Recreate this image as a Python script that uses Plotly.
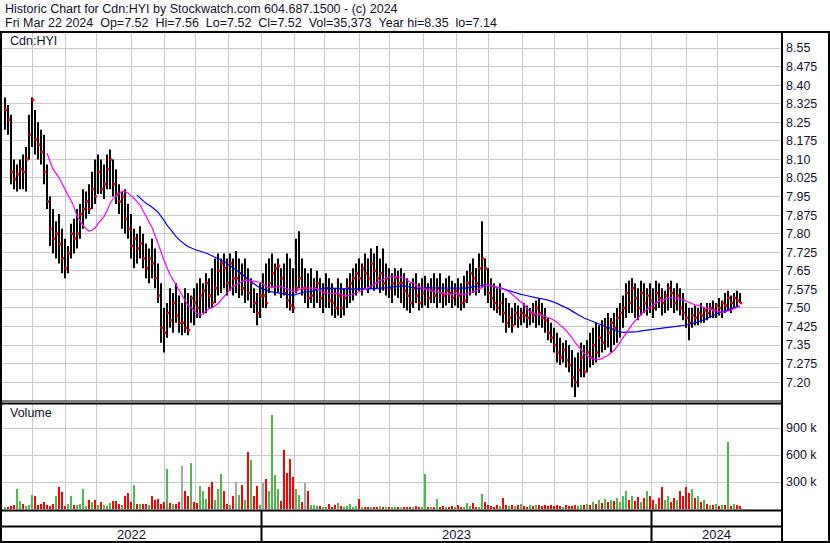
import plotly.graph_objects as go
import pandas as pd

# ---- data (2-trading-day bars) ----
START_DATE = "2022-05-05"
DAYS_PER_BAR = 2

high = [
    8.35, 8.32, 8.28, 8.10, 8.08, 8.10, 8.12, 8.15, 8.28, 8.35,
    8.30, 8.25, 8.22, 8.20, 8.08, 7.95, 7.90, 7.85, 7.88, 7.82,
    7.78, 7.75, 7.84, 7.86, 7.90, 7.92, 7.98, 7.97, 8.00, 8.05,
    8.10, 8.12, 8.10, 8.08, 8.12, 8.14, 8.10, 8.06, 8.00, 7.97,
    7.98, 7.92, 7.88, 7.82, 7.80, 7.83, 7.80, 7.76, 7.74, 7.78,
    7.74, 7.68, 7.60, 7.50, 7.52, 7.58, 7.56, 7.60, 7.55, 7.52,
    7.58, 7.56, 7.55, 7.58, 7.60, 7.62, 7.60, 7.64, 7.62, 7.66,
    7.70, 7.72, 7.70, 7.72, 7.70, 7.72, 7.70, 7.73, 7.70, 7.68,
    7.70, 7.66, 7.62, 7.58, 7.56, 7.60, 7.64, 7.68, 7.70, 7.72,
    7.68, 7.70, 7.66, 7.68, 7.72, 7.70, 7.66, 7.78, 7.81, 7.70,
    7.66, 7.64, 7.66, 7.62, 7.65, 7.62, 7.60, 7.64, 7.62, 7.60,
    7.58, 7.62, 7.60, 7.58, 7.62, 7.64, 7.66, 7.68, 7.70, 7.68,
    7.72, 7.70, 7.74, 7.72, 7.75, 7.70, 7.74, 7.68, 7.66, 7.64,
    7.66, 7.65, 7.66, 7.64, 7.62, 7.60, 7.62, 7.64, 7.60, 7.62,
    7.63, 7.60, 7.62, 7.64, 7.62, 7.64, 7.60, 7.62, 7.63, 7.61,
    7.60, 7.62, 7.60, 7.63, 7.65, 7.68, 7.70, 7.66, 7.72, 7.85,
    7.70, 7.66, 7.62, 7.60, 7.58, 7.60, 7.56, 7.54, 7.52, 7.50,
    7.52, 7.51, 7.50, 7.52, 7.51, 7.50, 7.52, 7.53, 7.54, 7.52,
    7.50, 7.46, 7.44, 7.42, 7.40, 7.38, 7.36, 7.37, 7.35, 7.33,
    7.30, 7.32, 7.36, 7.35, 7.37, 7.40, 7.42, 7.44, 7.43, 7.45,
    7.46, 7.48, 7.46, 7.48, 7.50, 7.52, 7.55, 7.60, 7.61, 7.62,
    7.60, 7.58, 7.61, 7.60, 7.58, 7.60, 7.58, 7.61, 7.60, 7.58,
    7.57, 7.60, 7.61, 7.58, 7.60, 7.58, 7.56, 7.52, 7.50, 7.50,
    7.51, 7.50, 7.52, 7.50, 7.52, 7.52, 7.53, 7.52, 7.54, 7.53,
    7.56, 7.57, 7.55, 7.56, 7.57, 7.56,
]

low = [
    8.22, 8.20, 8.00, 7.98, 7.97, 7.98, 7.98, 7.97, 8.10, 8.15,
    8.12, 8.10, 8.08, 8.00, 7.90, 7.75, 7.72, 7.70, 7.68, 7.64,
    7.62, 7.64, 7.70, 7.72, 7.74, 7.78, 7.82, 7.86, 7.88, 7.90,
    7.92, 7.96, 7.96, 7.94, 7.98, 7.98, 7.95, 7.92, 7.88, 7.82,
    7.80, 7.78, 7.70, 7.66, 7.68, 7.70, 7.66, 7.62, 7.60, 7.62,
    7.58, 7.52, 7.36, 7.32, 7.38, 7.42, 7.40, 7.44, 7.40, 7.39,
    7.40, 7.39, 7.44, 7.43, 7.46, 7.46, 7.48, 7.48, 7.50, 7.50,
    7.52, 7.55, 7.56, 7.58, 7.55, 7.57, 7.55, 7.56, 7.54, 7.55,
    7.52, 7.53, 7.50, 7.48, 7.43, 7.46, 7.50, 7.50, 7.56, 7.58,
    7.55, 7.56, 7.54, 7.55, 7.50, 7.49, 7.48, 7.56, 7.58, 7.55,
    7.52, 7.50, 7.52, 7.50, 7.52, 7.50, 7.48, 7.50, 7.50, 7.47,
    7.46, 7.47, 7.46, 7.47, 7.50, 7.52, 7.53, 7.55, 7.57, 7.55,
    7.58, 7.56, 7.58, 7.57, 7.58, 7.56, 7.57, 7.55, 7.54, 7.52,
    7.55, 7.54, 7.52, 7.50, 7.49, 7.48, 7.50, 7.52, 7.49, 7.50,
    7.51, 7.50, 7.52, 7.52, 7.50, 7.52, 7.50, 7.51, 7.52, 7.50,
    7.51, 7.50, 7.49, 7.50, 7.52, 7.55, 7.56, 7.55, 7.56, 7.58,
    7.55, 7.52, 7.50, 7.49, 7.48, 7.47, 7.44, 7.40, 7.42, 7.40,
    7.43, 7.42, 7.43, 7.44, 7.42, 7.43, 7.44, 7.42, 7.43, 7.42,
    7.40, 7.37, 7.36, 7.32, 7.28, 7.27, 7.28, 7.26, 7.24, 7.18,
    7.14, 7.18, 7.22, 7.22, 7.24, 7.26, 7.27, 7.28, 7.30, 7.32,
    7.33, 7.34, 7.32, 7.35, 7.36, 7.38, 7.42, 7.46, 7.48, 7.48,
    7.46, 7.45, 7.47, 7.48, 7.47, 7.48, 7.46, 7.49, 7.50, 7.47,
    7.48, 7.49, 7.50, 7.48, 7.49, 7.47, 7.45, 7.42, 7.37, 7.42,
    7.43, 7.43, 7.44, 7.44, 7.45, 7.46, 7.46, 7.46, 7.47, 7.46,
    7.48, 7.49, 7.48, 7.50, 7.50, 7.52,
]

close = [
    8.30, 8.26, 8.05, 8.02, 8.04, 8.06, 8.05, 8.10, 8.20, 8.34,
    8.18, 8.16, 8.13, 8.05, 7.93, 7.82, 7.78, 7.80, 7.76, 7.70,
    7.66, 7.72, 7.80, 7.78, 7.80, 7.88, 7.90, 7.93, 7.90, 7.98,
    7.95, 8.05, 7.98, 8.00, 8.06, 8.10, 8.00, 7.96, 7.93, 7.95,
    7.86, 7.82, 7.75, 7.78, 7.74, 7.76, 7.70, 7.66, 7.70, 7.68,
    7.62, 7.55, 7.42, 7.40, 7.48, 7.45, 7.52, 7.47, 7.44, 7.44,
    7.42, 7.41, 7.54, 7.52, 7.50, 7.55, 7.57, 7.60, 7.55, 7.52,
    7.58, 7.65, 7.68, 7.66, 7.60, 7.68, 7.62, 7.62, 7.64, 7.58,
    7.62, 7.56, 7.60, 7.52, 7.48, 7.55, 7.55, 7.52, 7.60, 7.64,
    7.66, 7.67, 7.62, 7.56, 7.53, 7.51, 7.50, 7.58, 7.62, 7.58,
    7.58, 7.54, 7.55, 7.58, 7.60, 7.54, 7.56, 7.58, 7.53, 7.52,
    7.50, 7.55, 7.50, 7.54, 7.58, 7.60, 7.62, 7.64, 7.62, 7.66,
    7.64, 7.62, 7.68, 7.65, 7.62, 7.64, 7.60, 7.62, 7.58, 7.60,
    7.62, 7.60, 7.60, 7.57, 7.55, 7.52, 7.58, 7.55, 7.52, 7.56,
    7.58, 7.54, 7.57, 7.55, 7.58, 7.56, 7.55, 7.57, 7.56, 7.54,
    7.57, 7.55, 7.52, 7.53, 7.60, 7.64, 7.62, 7.60, 7.66, 7.70,
    7.66, 7.56, 7.54, 7.52, 7.50, 7.52, 7.48, 7.44, 7.46, 7.43,
    7.48, 7.46, 7.48, 7.47, 7.46, 7.48, 7.47, 7.50, 7.48, 7.46,
    7.45, 7.40, 7.38, 7.35, 7.32, 7.30, 7.33, 7.29, 7.27, 7.22,
    7.20, 7.25, 7.30, 7.24, 7.32, 7.30, 7.35, 7.32, 7.38, 7.36,
    7.42, 7.40, 7.44, 7.42, 7.46, 7.48, 7.50, 7.56, 7.52, 7.58,
    7.54, 7.50, 7.56, 7.52, 7.55, 7.53, 7.50, 7.56, 7.54, 7.52,
    7.55, 7.58, 7.56, 7.52, 7.55, 7.50, 7.48, 7.46, 7.44, 7.47,
    7.46, 7.48, 7.47, 7.49, 7.48, 7.50, 7.49, 7.51, 7.50, 7.52,
    7.51, 7.54, 7.52, 7.54, 7.53, 7.52,
]

volume_k = [
    20, 15, 30, 40, 220, 90, 60, 30, 40, 160,
    150, 40, 60, 80, 40, 30, 60, 150, 240, 190,
    30, 60, 150, 50, 40, 60, 220, 30, 100, 80,
    100, 40, 80, 50, 30, 70, 90, 90, 60, 50,
    140, 180, 80, 270, 60, 60, 60, 60, 50, 140,
    100, 110, 60, 80, 440, 70, 60, 60, 80, 480,
    200, 140, 510, 80, 70, 260, 200, 110, 250, 300,
    100, 220, 390, 200, 60, 40, 140, 300, 160, 270,
    100, 630, 540, 150, 260, 40, 290, 330, 200, 1040,
    380, 220, 90, 660, 400, 560, 360, 220, 160, 80,
    290, 200, 40, 50, 30, 30, 20, 25, 60, 20,
    40, 70, 30, 20, 30, 60, 20, 30, 110, 20,
    15, 20, 25, 15, 20, 30, 15, 20, 25, 20,
    15, 20, 25, 20, 15, 20, 25, 30, 20, 25,
    390, 20, 25, 20, 110, 20, 30, 25, 20, 30,
    20, 50, 20, 25, 70, 30, 70, 20, 25, 170,
    80, 40, 30, 20, 50, 30, 120, 40, 30, 50,
    30, 40, 60, 30, 25, 40, 30, 50, 40, 30,
    40, 30, 50, 30, 40, 30, 25, 40, 30, 35,
    40, 30, 50, 40, 60, 50, 80, 60, 100, 70,
    110, 80, 100, 90, 120, 80, 150, 200, 100, 140,
    90, 130, 80, 120, 200, 150, 100, 60, 120, 250,
    100, 150, 80, 120, 100, 200, 150, 250, 180, 220,
    120, 150, 80, 100, 60, 50, 40, 60, 30, 50,
    40, 740, 30, 60, 50, 35,
]

price_ticks = ["7.20", "7.275", "7.35", "7.425", "7.50", "7.575", "7.65",
               "7.725", "7.80", "7.875", "7.95", "8.025", "8.10", "8.175",
               "8.25", "8.325", "8.40", "8.475", "8.55"]
volume_ticks = [300, 600, 900]

header_1 = "Historic Chart for Cdn:HYI by Stockwatch.com 604.687.1500 - (c) 2024"
header_2 = ("Fri Mar 22 2024  Op=7.52  Hi=7.56  Lo=7.52  Cl=7.52  "
            "Vol=35,373  Year hi=8.35  lo=7.14")

FAST_MA = 15   # bars (30 trading days)
SLOW_MA = 45   # bars (90 trading days)

# ---- geometry of the page (pixels of the 830x543 image) ----
W, H = 830, 543
TXT = "#101030"
GRID = "#c8c8c8"
FONT = "Liberation Sans, Arial, sans-serif"
PX_PER_DAY = 1.5


def px(p):
    return p / W


def py(p):
    return 1 - p / H


n = len(close)
n_days = n * DAYS_PER_BAR
days = pd.bdate_range(START_DATE, periods=n_days)
month_idx = [k for k in range(1, n_days) if days[k].month != days[k - 1].month]
year_idx = [k for k in month_idx if days[k].month == 1]

# plot spans pixels 2..781; one trading day = 1.5 px, so bars land on whole pixels
x_left = -1.0
x_right = x_left + (781 - 2) / PX_PER_DAY

x_bar = [DAYS_PER_BAR * i + 1 for i in range(n)]

seg_x, seg_y = [], []
for xb, lo, hi in zip(x_bar, low, high):
    seg_x += [xb, xb, None]
    seg_y += [lo, hi, None]

s_close = pd.Series(close)
ma_fast = s_close.rolling(FAST_MA).mean()
ma_slow = s_close.rolling(SLOW_MA).mean()

vol_colors = []
for i in range(n):
    if i == 0 or close[i] > close[i - 1]:
        vol_colors.append("#4db84d")
    elif close[i] < close[i - 1]:
        vol_colors.append("#ff0000")
    else:
        vol_colors.append("#a6a6a6")

fig = go.Figure()

fig.add_trace(go.Scatter(x=seg_x, y=seg_y, mode="lines",
                         line=dict(color="black", width=2),
                         hoverinfo="skip", xaxis="x", yaxis="y"))
fig.add_trace(go.Scatter(x=[xb + 2 / 3 for xb in x_bar], y=close, mode="markers",
                         marker=dict(symbol="square", size=2.5, color="#ff0000",
                                     line=dict(width=0)),
                         xaxis="x", yaxis="y"))
fig.add_trace(go.Scatter(x=x_bar, y=ma_slow, mode="lines",
                         line=dict(color="#0000ff", width=1.2),
                         xaxis="x", yaxis="y"))
fig.add_trace(go.Scatter(x=x_bar, y=ma_fast, mode="lines",
                         line=dict(color="#ff00ff", width=1.2),
                         xaxis="x", yaxis="y"))

fig.add_trace(go.Bar(x=x_bar, y=[v * 1000 for v in volume_k],
                     marker=dict(color=vol_colors, line=dict(width=0)),
                     width=4 / 3, xaxis="x2", yaxis="y2"))

xdom = [px(2), px(781)]
axis_common = dict(
    domain=xdom, range=[x_left, x_right],
    tickvals=month_idx, showticklabels=False, ticks="",
    showgrid=True, gridcolor=GRID, gridwidth=1,
    zeroline=False, showline=False,
)

fig.update_layout(
    width=W, height=H,
    margin=dict(l=0, r=0, t=0, b=0),
    paper_bgcolor="white", plot_bgcolor="white",
    showlegend=False,
    font=dict(family=FONT, size=12, color=TXT),
    bargap=0,
    xaxis=dict(anchor="y", **axis_common),
    xaxis2=dict(anchor="y2", matches="x", **axis_common),
    yaxis=dict(
        domain=[py(401), py(31)], range=[7.1243, 8.6187],
        side="right", tickvals=[float(t) for t in price_ticks],
        ticktext=price_ticks, ticks="", ticklabelstandoff=4,
        showgrid=True, gridcolor=GRID, zeroline=False, showline=False,
        tickfont=dict(size=12.5, color=TXT),
    ),
    yaxis2=dict(
        domain=[py(509), py(403)], range=[0, 1178000],
        side="right", tickvals=[v * 1000 for v in volume_ticks],
        ticktext=[f"{v} k" for v in volume_ticks], ticks="",
        ticklabelstandoff=4,
        showgrid=True, gridcolor=GRID, zeroline=False, showline=False,
        tickfont=dict(size=12.5, color=TXT),
    ),
)

# frame and panel separators
shapes = [
    dict(type="rect", xref="paper", yref="paper", x0=px(1), x1=px(829),
         y0=py(542), y1=py(32), line=dict(color="black", width=2)),
    dict(type="line", xref="paper", yref="paper", x0=px(782), x1=px(782),
         y0=py(542), y1=py(32), line=dict(color="black", width=2)),
    dict(type="line", xref="paper", yref="paper", x0=0, x1=px(782),
         y0=py(401), y1=py(401), line=dict(color="black", width=1)),
    dict(type="line", xref="paper", yref="paper", x0=0, x1=px(782),
         y0=py(403.5), y1=py(403.5), line=dict(color="black", width=2)),
    dict(type="line", xref="paper", yref="paper", x0=0, x1=px(782),
         y0=py(510.5), y1=py(510.5), line=dict(color="black", width=2)),
    dict(type="line", xref="paper", yref="paper", x0=0, x1=px(782),
         y0=py(526.5), y1=py(526.5), line=dict(color="black", width=2)),
]
for k in year_idx:
    shapes.append(dict(type="line", xref="x", yref="paper", x0=k, x1=k,
                       y0=py(542), y1=py(510), line=dict(color="black", width=2)))
fig.update_layout(shapes=shapes)

# year labels centred between year boundaries
bounds = [x_left] + year_idx + [x_right]
years = [days[0].year] + [days[k].year for k in year_idx]
annotations = []
for yr, a, b in zip(years, bounds[:-1], bounds[1:]):
    annotations.append(dict(text=str(yr), x=(a + b) / 2, xref="x", y=py(534),
                            yref="paper", showarrow=False, xanchor="center",
                            yanchor="middle", font=dict(size=13, color=TXT)))

nb = "\u00a0"
annotations += [
    dict(text=header_1.replace(" ", nb), x=px(3), y=py(9), xref="paper",
         yref="paper", showarrow=False, xanchor="left", yanchor="middle",
         font=dict(size=12.5, color=TXT)),
    dict(text=header_2.replace(" ", nb), x=px(3), y=py(23), xref="paper",
         yref="paper", showarrow=False, xanchor="left", yanchor="middle",
         font=dict(size=12.5, color=TXT)),
    dict(text="Cdn:HYI", x=px(8), y=py(41), xref="paper", yref="paper",
         showarrow=False, xanchor="left", yanchor="middle",
         font=dict(size=12.5, color=TXT)),
    dict(text="Volume", x=px(8), y=py(413), xref="paper", yref="paper",
         showarrow=False, xanchor="left", yanchor="middle",
         font=dict(size=12.5, color=TXT)),
]
fig.update_layout(annotations=annotations)

# the page's default 8px body margin would shift the chart
fig.write_html("out.html", config={"displayModeBar": False},
               post_script="document.body.style.margin='0';")
